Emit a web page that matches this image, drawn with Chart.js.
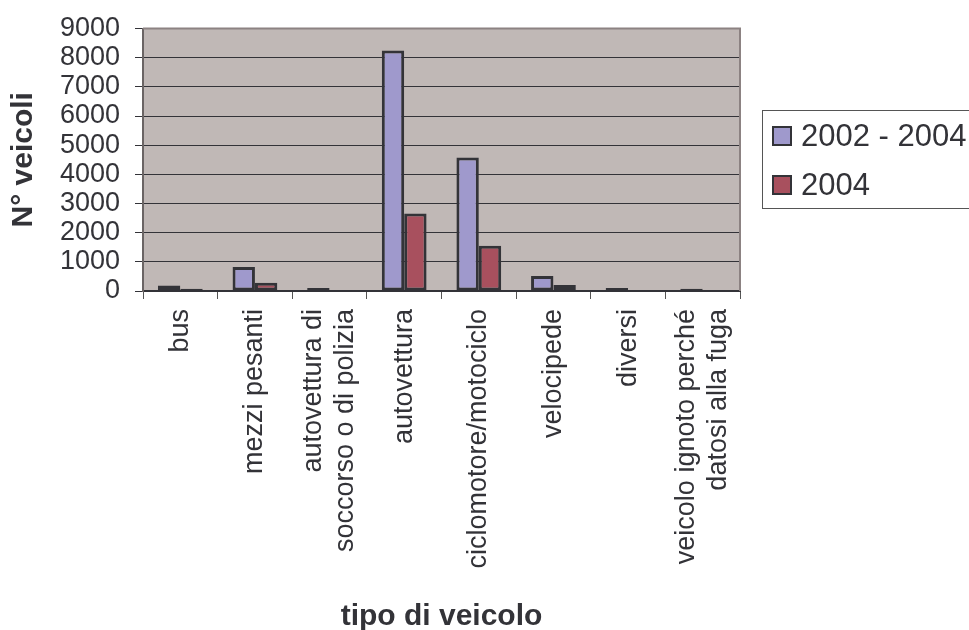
<!DOCTYPE html>
<html>
<head>
<meta charset="utf-8">
<script src="https://cdn.jsdelivr.net/npm/chart.js@4/dist/chart.umd.min.js"></script>
<style>
  html, body { margin: 0; padding: 0; background: #ffffff; }
  #wrap { width: 969px; height: 630px; position: relative; }
</style>
</head>
<body>
<div id="wrap"><canvas id="c" width="969" height="630"></canvas></div>
<script>
// Vehicle categories (multi-line labels as arrays)
const categories = [
  'bus',
  'mezzi pesanti',
  ['autovettura di', 'soccorso o di polizia'],
  'autovettura',
  'ciclomotore/motociclo',
  'velocipede',
  'diversi',
  ['veicolo ignoto perché', 'datosi alla fuga']
];

// Number of vehicles per category
const series20022004 = [190, 820, 100, 8250, 4580, 515, 100, 80];
const series2004 = [80, 280, 35, 2660, 1550, 205, 35, 35];

const seriesLabels = ['2002 - 2004', '2004'];
const yTicks = [0, 1000, 2000, 3000, 4000, 5000, 6000, 7000, 8000, 9000];

const FONT = "'Liberation Sans', Arial, sans-serif";
const TEXT = '#333338';
const X_LABEL_SIZE = 27;
const X_LABEL_LH = 1.2;

// Grey plot background plus the plot frame
const plotFrame = {
  id: 'plotFrame',
  beforeDraw(chart) {
    const { ctx, chartArea: a } = chart;
    ctx.save();
    ctx.fillStyle = '#c0b8b6';
    ctx.fillRect(a.left, a.top, a.right - a.left, a.bottom - a.top);
    ctx.restore();
  },
  afterDatasetsDraw(chart) {
    const { ctx, chartArea: a } = chart;
    ctx.save();
    ctx.strokeStyle = '#8c8282';
    ctx.lineWidth = 2;
    ctx.beginPath();
    ctx.moveTo(a.left, a.top);
    ctx.lineTo(a.right, a.top);
    ctx.lineTo(a.right, a.bottom);
    ctx.stroke();
    ctx.restore();
  }
};

// Centre multi-line rotated category labels on their tick
const centerRotatedLabels = {
  id: 'centerRotatedLabels',
  afterUpdate(chart) {
    const s = chart.scales.x;
    if (!s || s._centered) return;
    const orig = s._computeLabelItems.bind(s);
    s._computeLabelItems = function (area) {
      const items = orig(area);
      const lh = X_LABEL_SIZE * X_LABEL_LH;
      items.forEach(it => {
        const n = Array.isArray(it.label) ? it.label.length : 1;
        if (n > 1) it.options.translation[0] -= (n - 1) * lh / 2;
      });
      return items;
    };
    s._centered = true;
    s._labelItems = null;
  }
};

// Boxed legend to the right of the plot
const boxLegend = {
  id: 'boxLegend',
  afterDraw(chart) {
    const { ctx } = chart;
    const x = 762.5, y = 110.5, w = 220, h = 98;
    ctx.save();
    ctx.strokeStyle = '#555555';
    ctx.lineWidth = 1;
    ctx.strokeRect(x, y, w, h);
    ctx.font = '31px ' + FONT;
    ctx.textBaseline = 'middle';
    ctx.textAlign = 'left';
    chart.data.datasets.forEach((ds, i) => {
      const cy = 136 + i * 49;
      ctx.fillStyle = ds.backgroundColor;
      ctx.fillRect(772, cy - 10, 20, 20);
      ctx.strokeStyle = '#333338';
      ctx.lineWidth = 2;
      ctx.strokeRect(773, cy - 9, 18, 18);
      ctx.fillStyle = TEXT;
      ctx.fillText(ds.label, 801, cy + 1);
    });
    ctx.restore();
  }
};

new Chart(document.getElementById('c'), {
  type: 'bar',
  data: {
    labels: categories,
    datasets: [
      {
        label: seriesLabels[0],
        data: series20022004,
        backgroundColor: '#9f99cc',
        borderColor: '#333338',
        borderWidth: 3,
        borderSkipped: false
      },
      {
        label: seriesLabels[1],
        data: series2004,
        backgroundColor: '#a8505e',
        borderColor: '#333338',
        borderWidth: 3,
        borderSkipped: false
      }
    ]
  },
  options: {
    responsive: false,
    animation: false,
    maintainAspectRatio: false,
    layout: { padding: { top: 28, right: 229, left: 0, bottom: 0 } },
    datasets: { bar: { categoryPercentage: 0.6, barPercentage: 1.0 } },
    plugins: {
      legend: { display: false },
      tooltip: { enabled: false }
    },
    scales: {
      x: {
        afterFit(scale) { scale.height = 339; },
        grid: {
          offset: true,
          drawOnChartArea: false,
          drawTicks: true,
          tickLength: 8,
          color: '#555555',
          lineWidth: 1
        },
        border: { color: '#333338', width: 2 },
        ticks: {
          autoSkip: false,
          minRotation: 90,
          maxRotation: 90,
          padding: 10,
          color: TEXT,
          font: { family: FONT, size: X_LABEL_SIZE, lineHeight: X_LABEL_LH }
        },
        title: {
          display: true,
          text: 'tipo di veicolo',
          color: TEXT,
          padding: { top: 0, bottom: -5 },
          font: { family: FONT, size: 30, weight: 'bold', lineHeight: 1.2 }
        }
      },
      y: {
        min: 0,
        max: 9000,
        afterFit(scale) { scale.width = 143; },
        afterBuildTicks(scale) { scale.ticks = yTicks.map(v => ({ value: v })); },
        grid: {
          drawTicks: true,
          tickLength: 8,
          color: '#333338',
          lineWidth: 1
        },
        border: { color: '#6a6464', width: 2 },
        ticks: {
          autoSkip: false,
          padding: 15,
          color: TEXT,
          callback: (v) => String(v),
          font: { family: FONT, size: 27, lineHeight: 1.0 }
        },
        title: {
          display: true,
          text: 'N° veicoli',
          color: TEXT,
          padding: { top: 6, bottom: 0 },
          font: { family: FONT, size: 30, weight: 'bold', lineHeight: 1.2 }
        }
      }
    }
  },
  plugins: [plotFrame, centerRotatedLabels, boxLegend]
});
</script>
</body>
</html>
